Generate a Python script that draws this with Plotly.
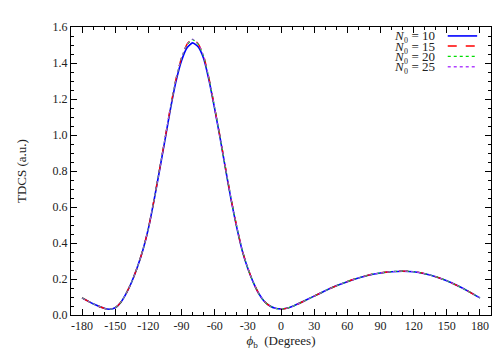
import plotly.graph_objects as go

# angle phi_b in degrees
phi = [-180, -170, -160, -155, -150, -145, -140, -135, -130, -125, -120, -115, -110,
       -105, -100, -95, -90, -85, -80, -75, -70, -65, -60, -55, -50, -45, -40, -35,
       -30, -25, -20, -15, -10, -5, 0, 5, 10, 20, 30, 40, 50, 60, 70, 80, 90, 100,
       110, 120, 130, 140, 150, 160, 170, 180]

tdcs_n10 = [0.095, 0.062, 0.037, 0.032, 0.040, 0.070, 0.120, 0.185, 0.265, 0.36, 0.48,
            0.633, 0.80, 0.972, 1.145, 1.298, 1.413, 1.485, 1.512, 1.49, 1.425, 1.30, 1.145,
            0.98, 0.805, 0.635, 0.485, 0.356, 0.258, 0.18, 0.118, 0.075, 0.050, 0.037,
            0.034, 0.037, 0.047, 0.075, 0.105, 0.135, 0.162, 0.185, 0.205, 0.222, 0.233,
            0.240, 0.243, 0.240, 0.229, 0.212, 0.190, 0.162, 0.130, 0.095]
tdcs_n15 = [0.095, 0.062, 0.037, 0.032, 0.040, 0.070, 0.120, 0.185, 0.265, 0.36, 0.48,
            0.635, 0.805, 0.978, 1.155, 1.312, 1.43, 1.505, 1.533, 1.508, 1.44, 1.31, 1.15,
            0.985, 0.81, 0.64, 0.49, 0.358, 0.26, 0.18, 0.118, 0.075, 0.050, 0.037,
            0.034, 0.037, 0.047, 0.075, 0.105, 0.135, 0.162, 0.186, 0.206, 0.223, 0.234,
            0.241, 0.244, 0.241, 0.230, 0.213, 0.190, 0.162, 0.130, 0.095]
tdcs_n20 = [0.095, 0.062, 0.037, 0.032, 0.040, 0.070, 0.120, 0.185, 0.265, 0.36, 0.48,
            0.635, 0.805, 0.978, 1.155, 1.312, 1.428, 1.503, 1.530, 1.505, 1.438, 1.31, 1.15,
            0.985, 0.81, 0.64, 0.49, 0.358, 0.26, 0.18, 0.118, 0.075, 0.050, 0.037,
            0.034, 0.037, 0.047, 0.075, 0.105, 0.135, 0.162, 0.186, 0.206, 0.223, 0.234,
            0.241, 0.244, 0.241, 0.230, 0.213, 0.190, 0.162, 0.130, 0.095]
tdcs_n25 = [0.095, 0.062, 0.037, 0.032, 0.040, 0.070, 0.120, 0.185, 0.265, 0.36, 0.48,
            0.635, 0.805, 0.978, 1.155, 1.312, 1.43, 1.505, 1.533, 1.508, 1.44, 1.31, 1.15,
            0.985, 0.81, 0.64, 0.49, 0.358, 0.26, 0.18, 0.118, 0.075, 0.050, 0.037,
            0.034, 0.037, 0.047, 0.075, 0.105, 0.135, 0.162, 0.186, 0.206, 0.223, 0.234,
            0.241, 0.244, 0.241, 0.230, 0.213, 0.190, 0.162, 0.130, 0.095]

n0_values = [10, 15, 20, 25]
series = [tdcs_n10, tdcs_n15, tdcs_n20, tdcs_n25]
colors = ["#0000ff", "#ff0000", "#00dd00", "#b040ff"]
dashes = ["solid", "dash", "dot", "dot"]
widths = [1.6, 1.4, 1.2, 1.0]

x_ticks = list(range(-180, 181, 30))

fig = go.Figure()
for n0, y, c, d, w in zip(n0_values, series, colors, dashes, widths):
    fig.add_trace(go.Scatter(x=phi, y=y, mode="lines", name=f"N0 = {n0}",
                             line=dict(color=c, dash=d, width=w, shape="spline", smoothing=0.5),
                             showlegend=False))

# legend drawn by hand: text on the left, line sample on the right (gnuplot style)
font = "Liberation Serif"
row_y = [0.969, 0.934, 0.898, 0.862]
for n0, c, d, w, ry in zip(n0_values, colors, dashes, widths, row_y):
    fig.add_annotation(xref="paper", yref="paper", x=0.869, y=ry, xanchor="right",
                       yanchor="middle", showarrow=False, borderpad=0,
                       text=f"<i>N</i>₀ = {n0}",
                       font=dict(family=font, size=13, color="#222"))
    fig.add_shape(type="line", xref="paper", yref="paper", x0=0.897, x1=0.967,
                  y0=ry, y1=ry, line=dict(color=c, dash=d, width=max(w, 1.3)))

axis_common = dict(showline=True, linecolor="#000", linewidth=1, mirror="ticks",
                   ticks="inside", ticklen=6, tickcolor="#000", showgrid=False,
                   zeroline=False, tickfont=dict(family=font, size=12, color="#222"))

fig.update_xaxes(range=[-190, 190], tickvals=x_ticks,
                 ticktext=[str(v) for v in x_ticks],
                 minor=dict(dtick=10, tick0=0, ticks="inside", ticklen=3, tickcolor="#000"),
                 title=dict(text="<i>ϕ</i><sub>b</sub>  (Degrees)", standoff=3,
                            font=dict(family=font, size=13, color="#222")),
                 **axis_common)
fig.update_yaxes(range=[0, 1.6], dtick=0.2, tickformat=".1f",
                 minor=dict(dtick=0.05, ticks="inside", ticklen=3, tickcolor="#000"),
                 title=dict(text="TDCS (a.u.)", standoff=23,
                            font=dict(family=font, size=13, color="#222")),
                 **axis_common)

fig.update_layout(width=500, height=350, plot_bgcolor="white", paper_bgcolor="white",
                  margin=dict(l=61, r=17, t=14, b=36),
                  font=dict(family=font))

fig.write_html("out.html")
